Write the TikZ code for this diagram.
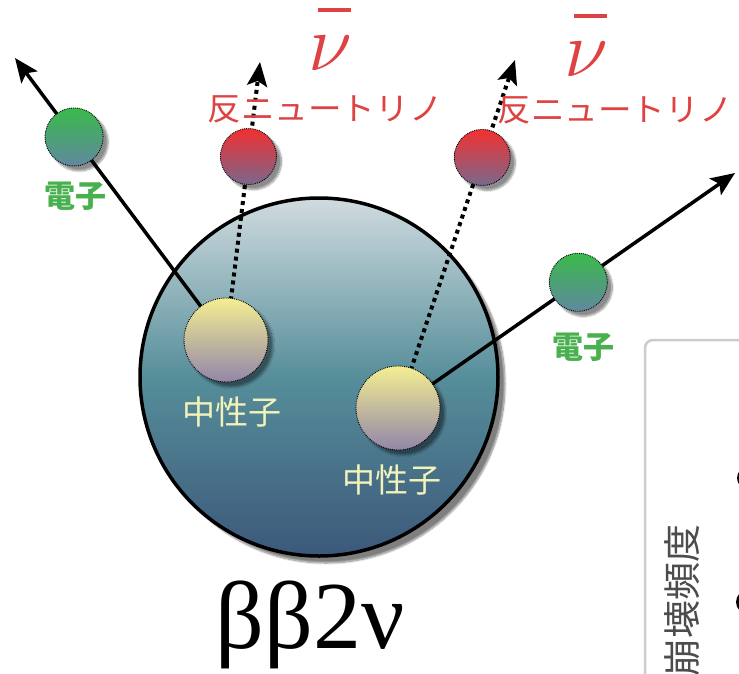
\RequirePackage{fix-cm}
\documentclass[tikz,border=0pt]{standalone}
\usepackage{fontspec}
\setmainfont{Liberation Serif}
\newfontfamily\jpfont{Noto Sans CJK JP}
\usetikzlibrary{arrows.meta,calc,shadows.blur}

\definecolor{nucTop}{RGB}{208,219,223}
\definecolor{nucMid}{RGB}{86,142,154}
\definecolor{nucBot}{RGB}{60,88,122}
\definecolor{neuTop}{RGB}{244,238,146}
\definecolor{neuBot}{RGB}{146,134,168}
\definecolor{eleTop}{RGB}{58,186,74}
\definecolor{eleBot}{RGB}{96,136,160}
\definecolor{anuTop}{RGB}{242,48,48}
\definecolor{anuBot}{RGB}{122,104,140}
\definecolor{eleText}{RGB}{72,176,78}
\definecolor{anuText}{RGB}{222,66,66}
\definecolor{neuText}{RGB}{242,242,186}

% barred nu
\newcommand{\antinu}{\rlap{\hspace{0.12em}\rule[0.72em]{0.42em}{0.06em}}$\nu$}

\tikzset{
  ball/.style={circle, inner sep=0pt, minimum size=#1, draw=black, densely dotted, line width=0.9pt,
    blur shadow={shadow xshift=5pt, shadow yshift=-5pt, shadow blur steps=8, shadow opacity=45}},
  neutron/.style={ball=84pt, top color=neuTop, bottom color=neuBot},
  electron/.style={ball=58pt, top color=eleTop, bottom color=eleBot},
  antinu/.style={ball=56pt, top color=anuTop, bottom color=anuBot},
  track/.style={line width=3.5pt, -{Stealth[length=24pt,width=20pt,inset=5pt]}},
  nutrack/.style={line width=4pt, dash pattern=on 4pt off 4pt, -{Stealth[length=24pt,width=20pt,inset=5pt]}},
  jp/.style={font=\jpfont\fontsize{#1}{#1}\selectfont, inner sep=0pt},
  jpbold/.style={font=\jpfont\bfseries\fontsize{#1}{#1}\selectfont, inner sep=0pt},
}

\begin{document}
\begin{tikzpicture}[x=1pt,y=-1pt]
  \useasboundingbox (0,0) rectangle (739,673);
  \clip (0,0) rectangle (739,673);

  % panel on the right
  \fill[white] (645,340) rectangle (760,690);
  \draw[black!20, line width=2.5pt, rounded corners=8pt] (760,340) -- (645,340) -- (645,690);
  \node[jp=38, text=black!70, rotate=90] (rate) at (682,600) {崩壊頻度};
  \fill (748,478) circle (11pt);
  \fill (748,602) circle (12pt);

  % where things sit
  \coordinate (n1) at (226,340);
  \coordinate (n2) at (398,408);
  \coordinate (t1) at (15,58);
  \coordinate (t2) at (260,62);
  \coordinate (t3) at (515,60);
  \coordinate (t4) at (735,173);

  % nucleus
  \node[circle, minimum size=358pt, draw=black, line width=3.5pt, shading=axis,
        top color=nucTop, bottom color=nucBot, middle color=nucMid,
        blur shadow={shadow xshift=7pt, shadow yshift=-7pt, shadow blur steps=10, shadow opacity=50}]
        (nuc) at (319,377) {};

  % tracks
  \draw[track] (n1) -- (t1);
  \draw[track] (n2) -- (t4);
  \draw[nutrack] (n1) -- (t2);
  \draw[nutrack] (n2) -- (t3);

  % particles
  \node[neutron] (neu1) at (n1) {};
  \node[neutron] (neu2) at (n2) {};
  \node[electron] (e1) at ($(n1)!0.72!(t1)$) {};
  \node[electron] (e2) at ($(n2)!0.535!(t4)$) {};
  \node[antinu] (a1) at ($(n1)!0.66!(t2)$) {};
  \node[antinu] (a2) at ($(n2)!0.72!(t3)$) {};

  % labels
  \node[jpbold=31, text=eleText] (le1) at (75,196) {電子};
  \node[jpbold=31, text=eleText] (le2) at (583,347) {電子};
  \node[jp=33, text=neuText] (ln1) at (232,412) {中性子};
  \node[jp=33, text=neuText] (ln2) at (392,480) {中性子};
  \node[jp=32, text=anuText, xscale=1.05] (la1) at (325,109) {反ニュートリノ};
  \node[jp=32, text=anuText, xscale=1.05] (la2) at (615,110) {反ニュートリノ};
  \node[text=anuText, font=\fontsize{80}{80}\selectfont, inner sep=0pt, anchor=base] (nb1) at (330,70) {\antinu};
  \node[text=anuText, font=\fontsize{80}{80}\selectfont, inner sep=0pt, anchor=base] (nb2) at (586,76) {\antinu};
  \node[font=\fontsize{96}{96}\selectfont, anchor=base, inner sep=0pt] (decay) at (310,648) {ββ2ν};
\end{tikzpicture}
\end{document}
